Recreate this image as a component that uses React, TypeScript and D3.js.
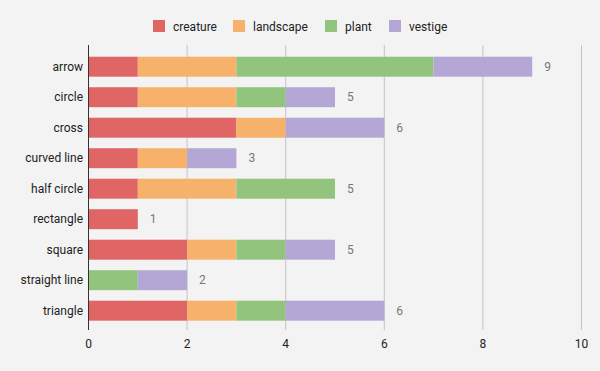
import React from "react";
import * as d3 from "d3";

const categories = ["arrow", "circle", "cross", "curved line", "half circle", "rectangle", "square", "straight line", "triangle"];
const seriesNames = ["creature", "landscape", "plant", "vestige"];
const creature = [1, 1, 3, 1, 1, 1, 2, 0, 2];
const landscape = [2, 2, 1, 1, 2, 0, 1, 0, 1];
const plant = [4, 1, 0, 0, 2, 0, 1, 1, 1];
const vestige = [2, 1, 2, 1, 0, 0, 1, 1, 2];
const xTicks = [0, 2, 4, 6, 8, 10];
const colors = ["#e06666", "#f6b26b", "#93c47d", "#b4a7d6"];

export default function App() {
  const W = 600, H = 371;
  const rows = categories.map((c, i) => ({
    cat: c,
    creature: creature[i],
    landscape: landscape[i],
    plant: plant[i],
    vestige: vestige[i],
  }));
  const stack = d3.stack<any>().keys(seriesNames)(rows);
  const x = d3.scaleLinear().domain([0, 10]).range([88.5, 581.5]);
  const y = d3.scaleBand().domain(categories).range([46.2, 331.2]).padding(0.345);
  const totals = rows.map((r) => r.creature + r.landscape + r.plant + r.vestige);
  const font = "Roboto, sans-serif";
  const legendX = [153, 233, 325, 389];

  return (
    <svg width={W} height={H} style={{ position: "absolute", left: 0, top: 0, background: "#f3f3f3" }}>
      <rect width={W} height={H} fill="#f3f3f3" />
      {seriesNames.map((s, i) => (
        <g key={s}>
          <rect x={legendX[i]} y={20} width={12} height={12} fill={colors[i]} />
          <text x={legendX[i] + 20} y={30.5} fontFamily={font} fontSize={12} fill="#222">{s}</text>
        </g>
      ))}
      {xTicks.filter((t) => t > 0).map((t) => (
        <line key={t} x1={x(t)} x2={x(t)} y1={45} y2={330} stroke="#c4c4c4" strokeWidth={1} />
      ))}
      {stack.map((layer, si) => (
        <g key={layer.key} fill={colors[si]}>
          {layer.map((d, i) =>
            d[1] > d[0] ? (
              <rect key={i} x={x(d[0])} y={y(categories[i])} width={x(d[1]) - x(d[0])} height={y.bandwidth()} />
            ) : null
          )}
        </g>
      ))}
      {categories.map((c, i) => (
        <g key={c}>
          <text x={83} y={(y(c) as number) + y.bandwidth() / 2} dy="0.35em" textAnchor="end" fontFamily={font} fontSize={12} fill="#222">{c}</text>
          <text x={x(totals[i]) + 12} y={(y(c) as number) + y.bandwidth() / 2} dy="0.35em" textAnchor="start" fontFamily={font} fontSize={12} fill="#777">{totals[i]}</text>
        </g>
      ))}
      <line x1={x(0)} x2={x(0)} y1={45} y2={330} stroke="#333" strokeWidth={1} />
      {xTicks.map((t) => (
        <text key={t} x={x(t)} y={348} textAnchor="middle" fontFamily={font} fontSize={12} fill="#222">{t}</text>
      ))}
    </svg>
  );
}
